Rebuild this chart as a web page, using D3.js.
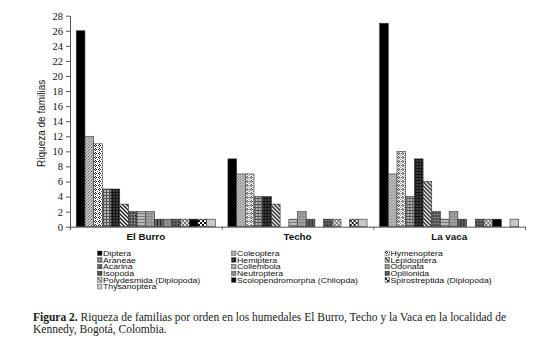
<!DOCTYPE html>
<html><head><meta charset="utf-8">
<script src="https://cdn.jsdelivr.net/npm/d3@7"></script>
<style>
html,body{margin:0;padding:0;background:#fff;}
svg{display:block;}
</style>
</head><body>
<svg id="chart" width="550" height="345"></svg>
<script>
const categories = ["El Burro", "Techo", "La vaca"];
const orders = ["Diptera","Coleoptera","Hymenoptera","Araneae","Hemiptera","Lepidoptera","Acarina","Collembola","Odonata","Isopoda","Neutroptera","Opilionida","Polydesmida (Diplopoda)","Scolopendromorpha (Chilopda)","Spirostreptida (Diplopoda)","Thysanoptera"];
const elBurro = [26,12,11,5,5,3,2,2,2,1,1,1,1,1,1,1];
const techo   = [9,7,7,4,4,3,0,1,2,1,0,1,1,0,1,1];
const laVaca  = [27,7,10,4,9,6,2,1,2,1,0,1,1,1,0,1];
const yTicks = [0,2,4,6,8,10,12,14,16,18,20,22,24,26,28];
const yTitle = "Riqueza de familias";
const captionBold = "Figura 2.";
const captionLine1 = " Riqueza de familias por orden en los humedales El Burro, Techo y la Vaca en la localidad de";
const captionLine2 = "Kennedy, Bogotá, Colombia.";

const seriesValues = [elBurro, techo, laVaca];
const table = categories.map((c, i) => ({cat: c, values: orders.map((o, j) => ({order: o, idx: j, v: seriesValues[i][j]}))}));

const svg = d3.select("#chart");
const defs = svg.append("defs");

function pat(id, w, h, bg, shapes) {
  const p = defs.append("pattern").attr("id", id).attr("patternUnits", "userSpaceOnUse").attr("width", w).attr("height", h);
  p.append("rect").attr("width", w).attr("height", h).attr("fill", bg);
  shapes.forEach(s => {
    if (s.type === "rect") p.append("rect").attr("x", s.x).attr("y", s.y).attr("width", s.w).attr("height", s.h).attr("fill", s.f);
    else p.append("path").attr("d", s.d).attr("stroke", s.s).attr("stroke-width", s.sw).attr("fill", "none");
  });
}
const R = (x,y,w,h,f) => ({type:"rect",x,y,w,h,f});
const P = (d,s,sw) => ({type:"path",d,s,sw});
pat("p0", 4, 4, "#000", []);
pat("p1", 3, 3, "#c0c0c0", [R(0,0,1,1,"#777"), R(2,1,1,1,"#999"), R(1,2,1,1,"#888")]);
pat("p2", 4, 4, "#fff", [R(1,0,1,1,"#222"), R(0,1,1,1,"#222"), R(2,1,1,1,"#222"), R(1,2,1,1,"#222"), R(3,3,1,1,"#666")]);
pat("p3", 3, 3, "#b8b8b8", [R(0,0,3,1,"#555"), R(0,0,1,3,"#555")]);
pat("p4", 3, 3, "#444", [R(0,0,3,1,"#111"), R(0,0,1,3,"#111")]);
pat("p5", 4, 4, "#fff", [P("M0,0 L4,4 M-1,3 L1,5 M3,-1 L5,1", "#111", 1.3)]);
pat("p6", 3, 3, "#666", [R(0,0,1,1,"#222"), R(1,1,1,1,"#999"), R(2,2,1,1,"#333")]);
pat("p7", 3, 3, "#bbb", [R(0,0,3,1,"#777")]);
pat("p8", 3, 3, "#999", [R(0,0,1,1,"#777"), R(1,2,1,1,"#aaa")]);
pat("p9", 3, 3, "#666", [R(0,0,1,3,"#222")]);
pat("p10", 3, 3, "#8c8c8c", [R(1,1,1,1,"#777")]);
pat("p11", 3, 3, "#555", [R(0,0,1,1,"#222"), R(2,1,1,1,"#888")]);
pat("p12", 4, 4, "#ddd", [R(0,0,2,2,"#777"), R(2,2,2,2,"#777")]);
pat("p13", 4, 4, "#000", []);
pat("p14", 4, 4, "#fff", [R(0,0,2,2,"#111"), R(2,2,2,2,"#111")]);
pat("p15", 4, 4, "#c8c8c8", []);

const plotLeft = 70, plotRight = 525, plotTop = 15.7, plotBottom = 226.7;

const y = d3.scaleLinear().domain([0, 28]).range([plotBottom, plotTop]);
const x0 = d3.scaleBand().domain(categories).range([plotLeft, plotRight]).paddingInner(0).paddingOuter(0);
const x1 = d3.scaleBand().domain(orders).range([0, x0.bandwidth()]).paddingInner(0).paddingOuter(0.72);

const groups = svg.append("g").selectAll("g").data(table).join("g")
  .attr("transform", d => `translate(${x0(d.cat)},0)`);
groups.selectAll("rect").data(d => d.values.filter(e => e.v > 0)).join("rect")
  .attr("x", d => x1(d.order))
  .attr("y", d => y(d.v))
  .attr("width", x1.bandwidth())
  .attr("height", d => y(0) - y(d.v))
  .attr("fill", d => `url(#p${d.idx})`)
  .attr("stroke", "#333")
  .attr("stroke-width", 0.6);

const yAxis = svg.append("g").attr("transform", `translate(${plotLeft},0)`)
  .call(d3.axisLeft(y).tickValues(yTicks).tickSize(4).tickPadding(3).tickSizeOuter(0));
yAxis.attr("font-family", null).attr("font-size", null);
yAxis.select(".domain").attr("stroke", "#555");
yAxis.selectAll(".tick line").attr("stroke", "#555");
yAxis.selectAll("text").style("font-family", "'Liberation Serif', 'Times New Roman', serif").style("font-size", "10.5px").attr("fill", "#111");

const xLin = d3.scaleLinear().domain([0, categories.length]).range([plotLeft, plotRight]);
const xAxis = svg.append("g").attr("transform", `translate(0,${plotBottom})`)
  .call(d3.axisBottom(xLin).ticks(categories.length).tickSize(3).tickFormat(""));
xAxis.select(".domain").attr("stroke", "#555");
xAxis.selectAll(".tick line").attr("stroke", "#555");
svg.append("g").selectAll("text").data(categories).join("text")
  .attr("x", d => x0(d) + x0.bandwidth() / 2)
  .attr("y", 239.5)
  .attr("text-anchor", "middle")
  .style("font-family", "'Liberation Sans', Arial, sans-serif")
  .attr("font-weight", "bold")
  .style("font-size", "9.8px")
  .attr("fill", "#111")
  .text(d => d);

svg.append("text")
  .attr("transform", `translate(45,123.3) rotate(-90)`)
  .attr("text-anchor", "middle")
  .style("font-family", "'Liberation Sans', Arial, sans-serif")
  .style("font-size", "10px")
  .attr("fill", "#111")
  .text(yTitle);

const colX = [97.5, 231.5, 385];
const legend = svg.append("g").selectAll("g").data(orders).join("g")
  .attr("transform", (d, i) => `translate(${colX[i % 3]},${251 + Math.floor(i / 3) * 6.7})`);
legend.append("rect").attr("width", 4.5).attr("height", 4.5)
  .attr("fill", (d, i) => `url(#p${i})`).attr("stroke", "#333").attr("stroke-width", 0.4);
legend.append("g").attr("transform", "translate(5.5,4.8) scale(1.3,1)")
  .append("text")
  .style("font-family", "'Liberation Sans', Arial, sans-serif")
  .style("font-size", "6.7px").attr("fill", "#111")
  .text(d => d);

const cap = svg.append("text").attr("x", 33).attr("y", 320.5)
  .style("font-family", "'Liberation Serif', 'Times New Roman', serif")
  .style("font-size", "11.5px").attr("fill", "#1a1a1a");
cap.append("tspan").attr("font-weight", "bold").text(captionBold);
cap.append("tspan").text(captionLine1);
svg.append("text").attr("x", 33).attr("y", 332.5)
  .style("font-family", "'Liberation Serif', 'Times New Roman', serif")
  .style("font-size", "11.5px").attr("fill", "#1a1a1a")
  .text(captionLine2);
</script>
</body></html>
